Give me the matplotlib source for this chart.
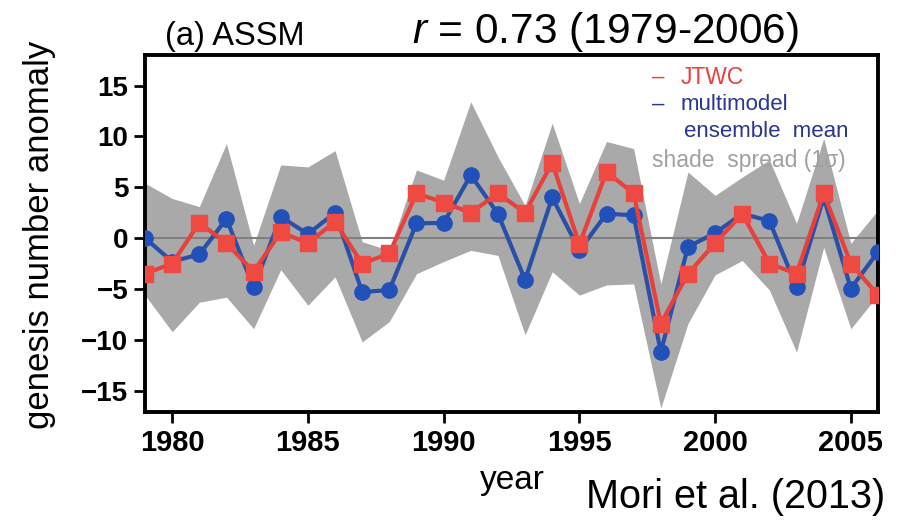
import matplotlib
matplotlib.use("Agg")
import matplotlib.pyplot as plt
import numpy as np

plt.rcParams['font.family'] = ['Liberation Sans', 'DejaVu Sans']
plt.rcParams['mathtext.fontset'] = 'custom'
plt.rcParams['mathtext.rm'] = 'Liberation Sans'
plt.rcParams['mathtext.it'] = 'Liberation Sans:italic'

years = list(range(1979, 2007))
jtwc = [-3.5, -2.5, 1.5, -0.5, -3.3, 0.6, -0.5, 1.6, -2.5, -1.5,
        4.4, 3.5, 2.5, 4.4, 2.5, 7.4, -0.6, 6.5, 4.4, -8.4,
        -3.5, -0.5, 2.4, -2.5, -3.5, 4.4, -2.5, -5.6]
mme = [0.0, -2.3, -1.6, 1.9, -4.85, 2.1, 0.4, 2.5, -5.3, -5.1,
       1.45, 1.5, 6.2, 2.4, -4.1, 4.0, -1.2, 2.4, 2.25, -11.2,
       -0.85, 0.5, 2.4, 1.7, -4.8, 4.0, -4.95, -1.35]
spread_upper = [5.4, 3.9, 3.1, 9.3, -0.7, 7.2, 7.0, 8.6, -0.35, -1.2,
                6.7, 5.7, 13.4, 8.0, 3.2, 11.3, 3.4, 9.5, 8.8, -4.5,
                6.5, 4.2, 6.0, 7.7, 1.45, 9.8, -0.5, 2.75]
spread_lower = [-5.6, -9.2, -6.3, -5.8, -8.9, -3.1, -6.6, -3.8, -10.2, -8.2,
                -3.5, -2.3, -1.2, -1.7, -9.5, -3.3, -5.6, -4.6, -4.5, -16.7,
                -8.4, -3.6, -2.2, -5.1, -11.2, -0.9, -8.9, -5.6]
xticks = [1980, 1985, 1990, 1995, 2000, 2005]
yticks = [-15, -10, -5, 0, 5, 10, 15]
ytick_labels = ['\u221215', '\u221210', '\u22125', '0', '5', '10', '15']

fig = plt.figure(figsize=(9.03, 5.21), dpi=100)
ax = fig.add_axes([0.1606, 0.209, 0.8117, 0.6854])

ax.fill_between(years, spread_lower, spread_upper, color='#a9a9a9', lw=0, zorder=1)
ax.axhline(0, color='#808080', lw=1.5, zorder=2)
ax.plot(years, mme, color='#2a4fa8', lw=3, marker='o', ms=11,
        mfc='#2150b8', mec='#2150b8', zorder=3, clip_on=True)
ax.plot(years, jtwc, color='#e8403a', lw=3, marker='s', ms=11,
        mfc='#ee4a42', mec='#ee4a42', zorder=4, clip_on=True)

ax.set_xlim(1979, 2006)
ax.set_ylim(-17.1, 18)
ax.set_xticks(xticks)
ax.set_xticklabels([str(t) for t in xticks], fontsize=21, fontweight='bold')
ax.set_yticks(yticks)
ax.set_yticklabels(ytick_labels, fontsize=20, fontweight='bold')
ax.tick_params(axis='both', direction='out', length=8, width=2, pad=4)
ax.tick_params(top=False, right=False)
for s in ax.spines.values():
    s.set_linewidth(2.8)
    s.set_color('black')

# Legend text
ax_txt = dict(va='center')
fig.text(652/903, 1 - 77/521, '\u2013', color='#e8403a', fontsize=16, **ax_txt)
fig.text(681/903, 1 - 77/521, 'JTWC', color='#e8403a', fontsize=16.5, **ax_txt)
fig.text(652/903, 1 - 104/521, '\u2013', color='#2a3590', fontsize=16, **ax_txt)
fig.text(681/903, 1 - 105/521, 'multimodel', color='#2a3590', fontsize=16, **ax_txt)
fig.text(684/903, 1 - 132/521, 'ensemble  mean', color='#2a3590', fontsize=16, **ax_txt)
fig.text(652/903, 1 - 160/521, 'shade  spread (1\u03c3)', color='#a0a0a0', fontsize=16.5, **ax_txt)

# Titles and labels
fig.text(165/903, 1 - 45/521, '(a) ASSM', fontsize=23.5, ha='left', va='baseline')
fig.text(412/903, 1 - 43/521, '$r$ = 0.73 (1979-2006)', fontsize=30.5, ha='left', va='baseline')
fig.text(40/903, 1 - 235/521, 'genesis number anomaly', fontsize=25, rotation=90,
         ha='center', va='center')
fig.text(512/903, 1 - 480/521, 'year', fontsize=24, ha='center', va='center')
fig.text(885/903, 1 - 497/521, 'Mori et al. (2013)', fontsize=28.5, ha='right', va='center')

fig.savefig('out.png', dpi=100)
